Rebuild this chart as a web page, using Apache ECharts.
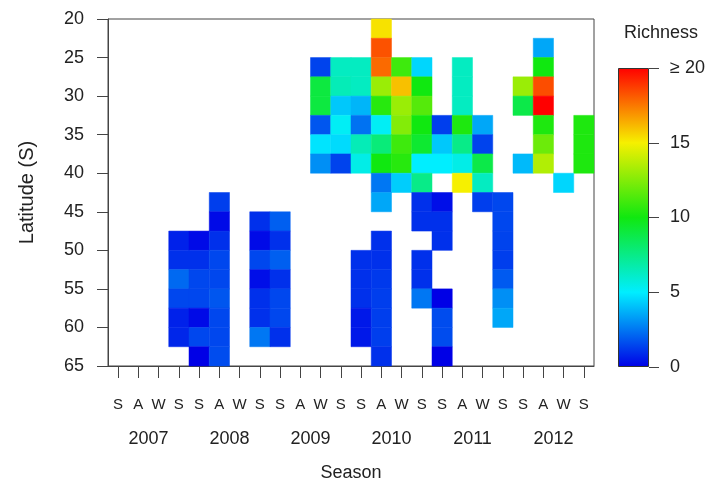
<!DOCTYPE html>
<html>
<head>
<meta charset="utf-8">
<script src="https://cdn.jsdelivr.net/npm/echarts@6/dist/echarts.min.js"></script>
<style>
html,body{margin:0;padding:0;background:#fff;}
#chart{width:711px;height:484px;}
</style>
</head>
<body>
<div id="chart"></div>
<script>
// ---- data ----
const years = ['2007', '2008', '2009', '2010', '2011', '2012'];
const seasonLetters = ['S', 'A', 'W', 'S'];
const latTicks = [20, 25, 30, 35, 40, 45, 50, 55, 60, 65];
const latStep = 2.5;
const latBands = [20, 22.5, 25, 27.5, 30, 32.5, 35, 37.5, 40, 42.5, 45, 47.5, 50, 52.5, 55, 57.5, 60, 62.5];
const legendTicks = [0, 5, 10, 15, 20];
const legendLabels = ['0', '5', '10', '15', '\u2265 20'];
const paletteColors = ['#0000e6', '#00eeff', '#10e810', '#f6f000', '#ff0000'];
const _ = null;
// richness[latBand][season]  (24 seasons: 2007 S A W S ... 2012 S A W S)
const richness = [
  [_,_,_,_,   _,_,_,_,   _,_,_,_,       _,15.3,_,_,          _,_,_,_,          _,_,_,_],
  [_,_,_,_,   _,_,_,_,   _,_,_,_,       _,18.3,_,_,          _,_,_,_,          _,3.5,_,_],
  [_,_,_,_,   _,_,_,_,   _,_,1.4,6.3,   6.3,17.8,11,4.5,     _,6.3,_,_,        _,10,_,_],
  [_,_,_,_,   _,_,_,_,   _,_,9,6.5,     6.3,13,16,10,        _,6.3,_,_,        13,18.4,_,_],
  [_,_,_,_,   _,_,_,_,   _,_,9,4.2,     3.8,10.5,13,11.5,    _,6.3,_,_,        8.8,20,_,_],
  [_,_,_,_,   _,_,_,_,   _,_,1.8,5.2,   2.4,5.2,12.5,10,     1.3,10.3,3.5,_,   _,10.3,_,10.3],
  [_,_,_,_,   _,_,_,_,   _,_,4.8,4.6,   6.5,7.8,11,9.3,      4.2,7.5,1.4,_,    _,12,_,10.3],
  [_,_,_,_,   _,_,_,_,   _,_,3,1.4,     5.5,10,10.5,5,       5,5.5,8.8,_,      3.9,13.5,_,10.3],
  [_,_,_,_,   _,_,_,_,   _,_,_,_,       _,2.5,4.3,7.5,       _,15,6.3,_,       _,_,4.5,_],
  [_,_,_,_,   _,1.3,_,_, _,_,_,_,       _,3.5,_,1,           0.3,_,1.3,1.5,    _,_,_,_],
  [_,_,_,_,   _,0.2,_,1, 2,_,_,_,       _,_,_,1,             1,_,_,1.5,        _,_,_,_],
  [_,_,_,0.7, 0.2,1,_,0.2, 1,_,_,_,     _,1,_,_,             1,_,_,1.4,        _,_,_,_],
  [_,_,_,1,   1,1.5,_,1.5, 2,_,_,_,     1,1,_,1,             _,_,_,1.3,        _,_,_,_],
  [_,_,_,2.2, 1.5,1.5,_,0.3, 1,_,_,_,   1,1.2,_,1,           _,_,_,1.9,        _,_,_,_],
  [_,_,_,1.5, 1.5,1.8,_,1, 1.5,_,_,_,   1,1.3,_,2.5,         0,_,_,3,          _,_,_,_],
  [_,_,_,0.7, 0.2,1.5,_,1, 1.5,_,_,_,   0.5,1.3,_,_,         1.6,_,_,3.5,      _,_,_,_],
  [_,_,_,0.8, 1.5,1.5,_,2.5, 1,_,_,_,   0.5,1.3,_,_,         1.6,_,_,_,        _,_,_,_],
  [_,_,_,_,   0,1.6,_,_, _,_,_,_,       _,1,_,_,             0,_,_,_,          _,_,_,_]
];

// ---- build ----
const seasons = [];
years.forEach(() => seasonLetters.forEach(s => seasons.push(s)));
const cells = [];
latBands.forEach((lat, j) => {
  richness[j].forEach((v, i) => {
    if (v !== null) cells.push([i, lat, v]);
  });
});

const FONT = "'Liberation Sans', Arial, sans-serif";
const TXT = '#222';

function renderCell(params, api) {
  const x = api.value(0), lat = api.value(1);
  const p0 = api.coord([x, lat]);
  const p1 = api.coord([x, lat + latStep]);
  const w = api.size([1, 0])[0];
  const c = api.visual('color');
  return {
    type: 'rect',
    shape: { x: p0[0] - w / 2, y: Math.min(p0[1], p1[1]), width: w, height: Math.abs(p1[1] - p0[1]) },
    style: { fill: c, stroke: c, lineWidth: 0.5 }
  };
}

const chart = echarts.init(document.getElementById('chart'), null, { renderer: 'canvas' });
chart.setOption({
  animation: false,
  backgroundColor: '#fff',
  textStyle: { fontFamily: FONT, color: TXT },
  title: {
    text: 'Richness', left: 619, top: 19,
    textStyle: { fontFamily: FONT, fontSize: 18, fontWeight: 'normal', color: TXT }
  },
  grid: [
    { left: 108, top: 19, width: 486, height: 347, show: true, borderColor: '#444', borderWidth: 1,
      backgroundColor: 'transparent', containLabel: false, outerBoundsMode: 'none' },
    { left: 618, top: 68, width: 31, height: 299, containLabel: false, outerBoundsMode: 'none' }
  ],
  xAxis: [
    {
      type: 'category', gridIndex: 0, data: seasons, boundaryGap: true, position: 'bottom',
      axisLine: { show: true, lineStyle: { color: '#444', width: 1 } },
      axisTick: { show: true, alignWithLabel: true, length: 12, lineStyle: { color: '#444' } },
      axisLabel: { interval: 0, margin: 31, fontSize: 15, color: TXT, fontFamily: FONT },
      splitLine: { show: false },
      name: 'Season', nameLocation: 'middle', nameGap: 98,
      nameTextStyle: { fontSize: 18, color: TXT, fontFamily: FONT }
    },
    {
      type: 'category', gridIndex: 0, data: years, boundaryGap: true, position: 'bottom',
      axisLine: { show: false }, axisTick: { show: false },
      axisLabel: { interval: 0, margin: 64, fontSize: 18, color: TXT, fontFamily: FONT },
      splitLine: { show: false }
    },
    {
      type: 'category', gridIndex: 1, data: ['Richness'], boundaryGap: true, show: false
    }
  ],
  yAxis: [
    {
      type: 'value', gridIndex: 0, min: 20, max: 65, interval: 5, inverse: true,
      axisLine: { show: true, lineStyle: { color: '#444', width: 1 } },
      axisTick: { show: true, length: 11, lineStyle: { color: '#444' } },
      axisLabel: { margin: 24, fontSize: 18, color: TXT, fontFamily: FONT },
      splitLine: { show: false },
      name: 'Latitude (S)', nameLocation: 'middle', nameGap: 71, nameRotate: 90,
      nameTextStyle: { fontSize: 20, color: TXT, fontFamily: FONT }
    },
    {
      type: 'value', gridIndex: 1, min: legendTicks[0], max: legendTicks[legendTicks.length - 1],
      interval: legendTicks[1] - legendTicks[0], position: 'right',
      axisLine: { show: false },
      axisTick: { show: true, length: 10, lineStyle: { color: '#444' } },
      axisLabel: {
        margin: 21, fontSize: 18, color: TXT, fontFamily: FONT,
        formatter: v => legendLabels[legendTicks.indexOf(v)]
      },
      splitLine: { show: false }
    }
  ],
  visualMap: {
    type: 'continuous', show: false, min: legendTicks[0], max: legendTicks[legendTicks.length - 1],
    dimension: 2, seriesIndex: 0, inRange: { color: paletteColors }
  },
  series: [
    {
      type: 'custom', xAxisIndex: 0, yAxisIndex: 0,
      renderItem: renderCell,
      encode: { x: 0, y: 1 },
      data: cells,
      z: 1
    },
    {
      type: 'bar', xAxisIndex: 2, yAxisIndex: 1, barWidth: '100%',
      data: [legendTicks[legendTicks.length - 1]],
      itemStyle: {
        borderColor: '#333', borderWidth: 1,
        color: new echarts.graphic.LinearGradient(0, 1, 0, 0,
          paletteColors.map((c, i) => ({ offset: i / (paletteColors.length - 1), color: c })))
      },
      silent: true
    }
  ]
});
</script>
</body>
</html>
